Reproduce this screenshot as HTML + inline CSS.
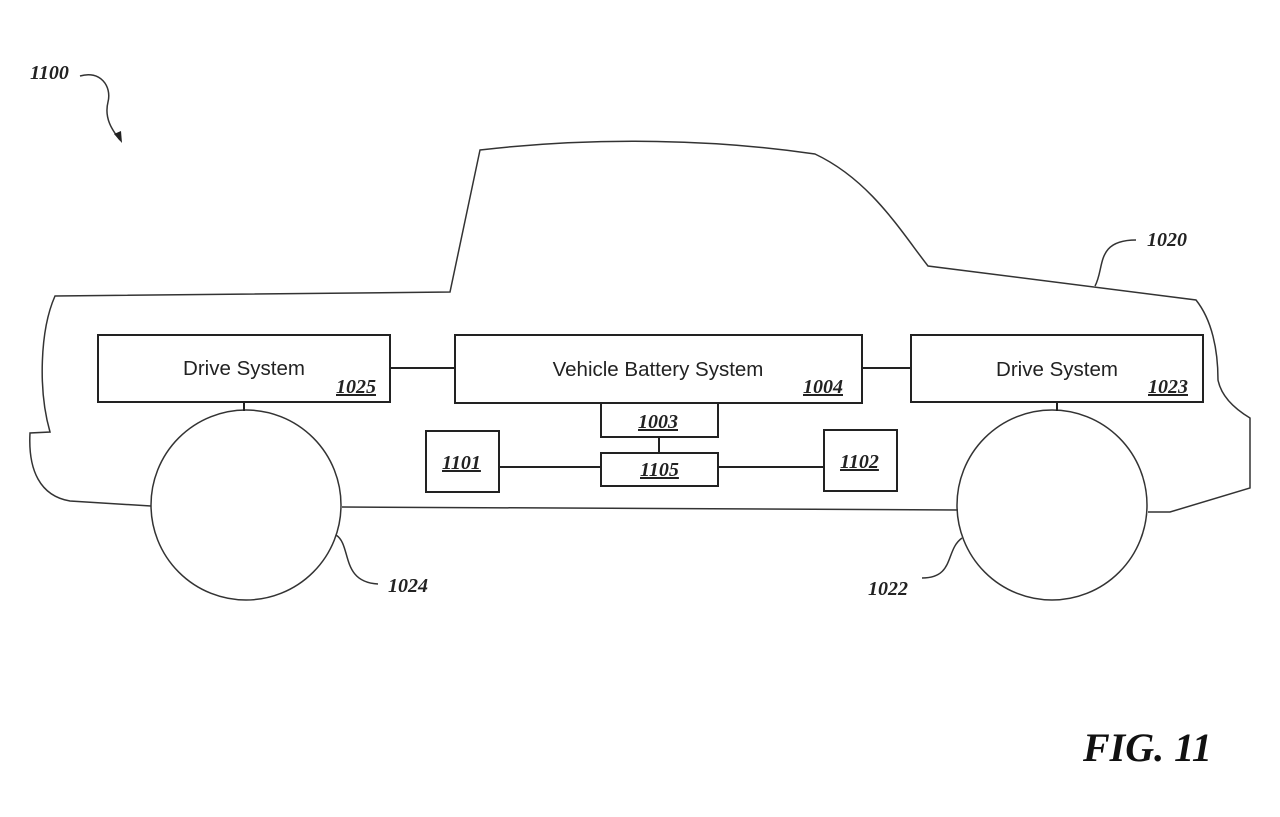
<!DOCTYPE html>
<html><head><meta charset="utf-8"><style>
html,body{margin:0;padding:0;background:#fff;}
svg{display:block;}
.t{font-family:"Liberation Sans",Arial,sans-serif;font-size:20.5px;fill:#222;}
.n{font-family:"Liberation Serif","Times New Roman",serif;font-style:italic;font-weight:bold;font-size:20px;fill:#222;text-decoration:underline;}
.r{font-family:"Liberation Serif","Times New Roman",serif;font-style:italic;font-weight:bold;font-size:20px;fill:#222;}
</style></head><body>
<svg width="1280" height="817" viewBox="0 0 1280 817" xmlns="http://www.w3.org/2000/svg">
<g fill="none" stroke="#333" stroke-width="1.5">
<path d="M151,506 L70,501 C40,496 28,470 30,433 L50,432 C38,390 40,330 55,296 L450,292 L480,150 C600,136 720,140 815,154 C870,180 900,230 928,266 L1196,300 C1212,320 1218,350 1218,380 C1222,400 1240,412 1250,418 L1250,488 L1170,512 L1148,512"/>
<path d="M958,510 L342,507"/>
<circle cx="246" cy="505" r="95"/>
<circle cx="1052" cy="505" r="95"/>
<path d="M336,535 C352,545 340,582 378,584"/>
<path d="M962,538 C945,550 955,578 922,578"/>
<path d="M1095,286 C1105,268 1095,240 1136,240"/>
<path d="M80,76 C100,70 112,86 108,102 C104,118 112,130 120,140"/>
</g>
<path d="M114,134 L122,143 L121,131 Z" fill="#222"/>
<g fill="#fff" stroke="#222" stroke-width="2">
<rect x="98" y="335" width="292" height="67"/>
<rect x="455" y="335" width="407" height="68"/>
<rect x="911" y="335" width="292" height="67"/>
<rect x="601" y="403" width="117" height="34"/>
<rect x="601" y="453" width="117" height="33"/>
<rect x="426" y="431" width="73" height="61"/>
<rect x="824" y="430" width="73" height="61"/>
</g>
<g stroke="#222" stroke-width="2">
<line x1="390" y1="368" x2="455" y2="368"/>
<line x1="862" y1="368" x2="911" y2="368"/>
<line x1="659" y1="437" x2="659" y2="453"/>
<line x1="499" y1="467" x2="601" y2="467"/>
<line x1="718" y1="467" x2="824" y2="467"/>
<line x1="244" y1="402" x2="244" y2="411"/>
<line x1="1057" y1="402" x2="1057" y2="411"/>
</g>
<text class="t" x="244" y="375" text-anchor="middle">Drive System</text>
<text class="t" x="658" y="376" text-anchor="middle">Vehicle Battery System</text>
<text class="t" x="1057" y="376" text-anchor="middle">Drive System</text>
<text class="n" x="336" y="393">1025</text>
<text class="n" x="803" y="393">1004</text>
<text class="n" x="1148" y="393">1023</text>
<text class="n" x="638" y="428">1003</text>
<text class="n" x="640" y="476">1105</text>
<text class="n" x="442" y="469">1101</text>
<text class="n" x="840" y="468">1102</text>
<text class="r" x="30" y="79">1100</text>
<text class="r" x="1147" y="246">1020</text>
<text class="r" x="388" y="592">1024</text>
<text class="r" x="868" y="595">1022</text>
<text x="1083" y="761" style="font-family:'Liberation Serif',serif;font-style:italic;font-weight:bold;font-size:40px;fill:#111;">FIG. 11</text>
</svg>
</body></html>
